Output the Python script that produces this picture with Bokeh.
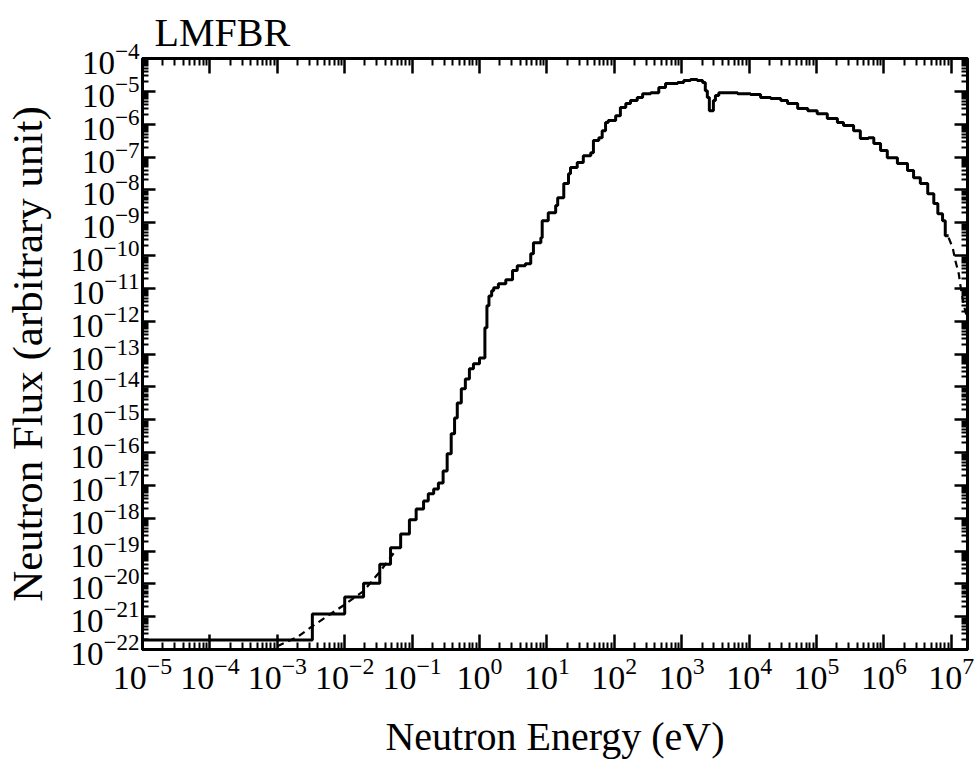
from bokeh.plotting import figure
from bokeh.models import LogAxis, FixedTicker, Range1d, CustomJSTickFormatter
from bokeh.embed import file_html
from bokeh.resources import INLINE

# ---- data (exponents of ten) ----
# lower edge of each energy group, log10(E / eV)
group_lower_log_e = [
    -5.00, -2.48, -2.00, -1.72, -1.48, -1.32, -1.17, -1.04, -0.94, -0.83,
    -0.76, -0.68, -0.61, -0.54, -0.48, -0.42, -0.37, -0.33, -0.27, -0.21,
    -0.15, -0.09, 0.00, 0.08, 0.11, 0.14, 0.18, 0.21, 0.28, 0.39,
    0.49, 0.56, 0.68, 0.76, 0.80, 0.91, 0.93, 1.02, 1.13, 1.16,
    1.25, 1.32, 1.35, 1.45, 1.54, 1.65, 1.69, 1.77, 1.82, 1.87,
    1.91, 2.02, 2.09, 2.17, 2.24, 2.34, 2.42, 2.54, 2.66, 2.76,
    2.94, 3.03, 3.13, 3.23, 3.31, 3.35, 3.38, 3.41, 3.47, 3.50,
    3.55, 3.83, 4.02, 4.17, 4.32, 4.47, 4.57, 4.72, 4.87, 5.01,
    5.16, 5.31, 5.40, 5.55, 5.65, 5.77, 5.85, 5.95, 6.05, 6.20,
    6.35, 6.44, 6.54, 6.65, 6.74, 6.80, 6.87, 6.91,
]
group_upper_end_log_e = 6.96
# group flux, log10(flux)
group_log_flux = [
    -21.71, -20.92, -20.40, -19.98, -19.40, -18.90, -18.48, -18.05, -17.72, -17.48,
    -17.26, -17.11, -16.93, -16.56, -16.04, -15.43, -14.95, -14.49, -14.06, -13.76,
    -13.45, -13.30, -13.12, -12.20, -11.53, -11.23, -11.07, -10.98, -10.86, -10.74,
    -10.46, -10.31, -10.25, -9.95, -9.61, -9.46, -8.94, -8.70, -8.48, -8.24,
    -7.81, -7.51, -7.32, -7.17, -6.96, -6.87, -6.50, -6.41, -6.20, -5.95,
    -5.89, -5.74, -5.49, -5.37, -5.28, -5.19, -5.07, -5.04, -4.88, -4.76,
    -4.73, -4.67, -4.64, -4.67, -4.73, -4.98, -5.19, -5.59, -5.28, -5.13,
    -5.04, -5.07, -5.10, -5.19, -5.22, -5.28, -5.37, -5.52, -5.59, -5.68,
    -5.83, -5.95, -6.04, -6.20, -6.44, -6.41, -6.59, -6.80, -7.02, -7.20,
    -7.41, -7.63, -7.81, -8.12, -8.42, -8.73, -8.94, -9.40,
]

# dashed continuous spectrum, low-energy end
dash_low_log_e = [-3.00, -2.70, -2.48, -2.21, -2.02, -1.72, -1.47, -1.25]
dash_low_log_flux = [-21.90, -21.62, -21.29, -20.92, -20.66, -20.22, -19.61, -19.00]
# dashed continuous spectrum, high-energy end
dash_high_log_e = [6.96, 7.02, 7.06, 7.11, 7.14, 7.18, 7.24]
dash_high_log_flux = [-9.46, -9.76, -10.16, -10.55, -10.98, -11.47, -11.95]

x_decades = list(range(-5, 8))
y_decades = list(range(-22, -3))
x_max_exp = 7.24

# ---- build ----
step_x = [10 ** e for e in group_lower_log_e] + [10 ** group_upper_end_log_e]
step_y = [10 ** f for f in group_log_flux] + [10 ** group_log_flux[-1]]

x_major = [10.0 ** k for k in x_decades]
x_minor = [m * 10.0 ** k for k in range(-6, 8) for m in range(2, 10)
           if 1e-5 < m * 10.0 ** k < 10 ** x_max_exp]
y_major = [10.0 ** k for k in y_decades]
y_minor = [m * 10.0 ** k for k in range(-22, -4) for m in range(2, 10)]

FONT = "'Liberation Serif', 'Times New Roman', 'DejaVu Serif', serif"

p = figure(width=975, height=775, x_axis_type="log", y_axis_type="log",
           x_range=Range1d(1e-5, 10 ** x_max_exp), y_range=Range1d(1e-22, 1e-4),
           output_backend="svg", toolbar_location=None,
           min_border_left=142, min_border_right=8, min_border_top=58,
           min_border_bottom=126)

p.background_fill_color = "white"
p.border_fill_color = "white"
p.outline_line_color = "black"
p.outline_line_width = 3
p.xgrid.visible = False
p.ygrid.visible = False

p.title.text = "LMFBR"
p.title.text_font = FONT
p.title.text_font_size = "40px"
p.title.text_font_style = "normal"
p.title.text_color = "black"
p.title.align = "left"
p.title.vertical_align = "top"
p.title.offset = 12
p.title.standoff = 4

xt = FixedTicker(ticks=x_major, minor_ticks=x_minor)
yt = FixedTicker(ticks=y_major, minor_ticks=y_minor)


def style_axis(ax, major_len, minor_len):
    ax.major_tick_in = major_len
    ax.major_tick_out = 0
    ax.minor_tick_in = minor_len
    ax.minor_tick_out = 0
    ax.major_tick_line_color = "black"
    ax.minor_tick_line_color = "black"
    ax.major_tick_line_width = 2.5
    ax.minor_tick_line_width = 2
    ax.axis_line_color = "black"
    ax.axis_line_width = 3
    ax.major_label_text_color = "black"
    ax.major_label_text_font = FONT
    ax.axis_label_text_font = FONT
    ax.axis_label_text_font_style = "normal"
    ax.axis_label_text_color = "black"


xa = p.xaxis[0]
xa.ticker = xt
style_axis(xa, 15, 7)
xa.major_label_text_font_size = "34px"
xa.major_label_standoff = 8
xa.axis_label = "Neutron Energy (eV)"
xa.axis_label_text_font_size = "40px"
xa.axis_label_standoff = 22

ya = p.yaxis[0]
ya.ticker = yt
style_axis(ya, 13, 6)
ya.major_label_text_font_size = "33px"
ya.major_label_standoff = 3
ya.axis_label = "Neutron Flux (arbitrary unit)"
ya.axis_label_text_font_size = "43px"
ya.axis_label_standoff = 16

blank = CustomJSTickFormatter(code="return ''")
top = LogAxis(ticker=xt, formatter=blank, major_label_text_font_size="1px",
              major_label_standoff=0)
style_axis(top, 15, 7)
p.add_layout(top, "above")
right = LogAxis(ticker=yt, formatter=blank, major_label_text_font_size="1px",
                major_label_standoff=0)
style_axis(right, 13, 6)
p.add_layout(right, "right")

p.step(x=step_x, y=step_y, mode="after", line_color="black", line_width=3)
p.line(x=[10 ** e for e in dash_low_log_e], y=[10 ** f for f in dash_low_log_flux],
       line_color="black", line_width=2.2, line_dash="7 5")
p.line(x=[10 ** e for e in dash_high_log_e], y=[10 ** f for f in dash_high_log_flux],
       line_color="black", line_width=2.2, line_dash="7 5")

open("out.html", "w").write(file_html(p, INLINE))
